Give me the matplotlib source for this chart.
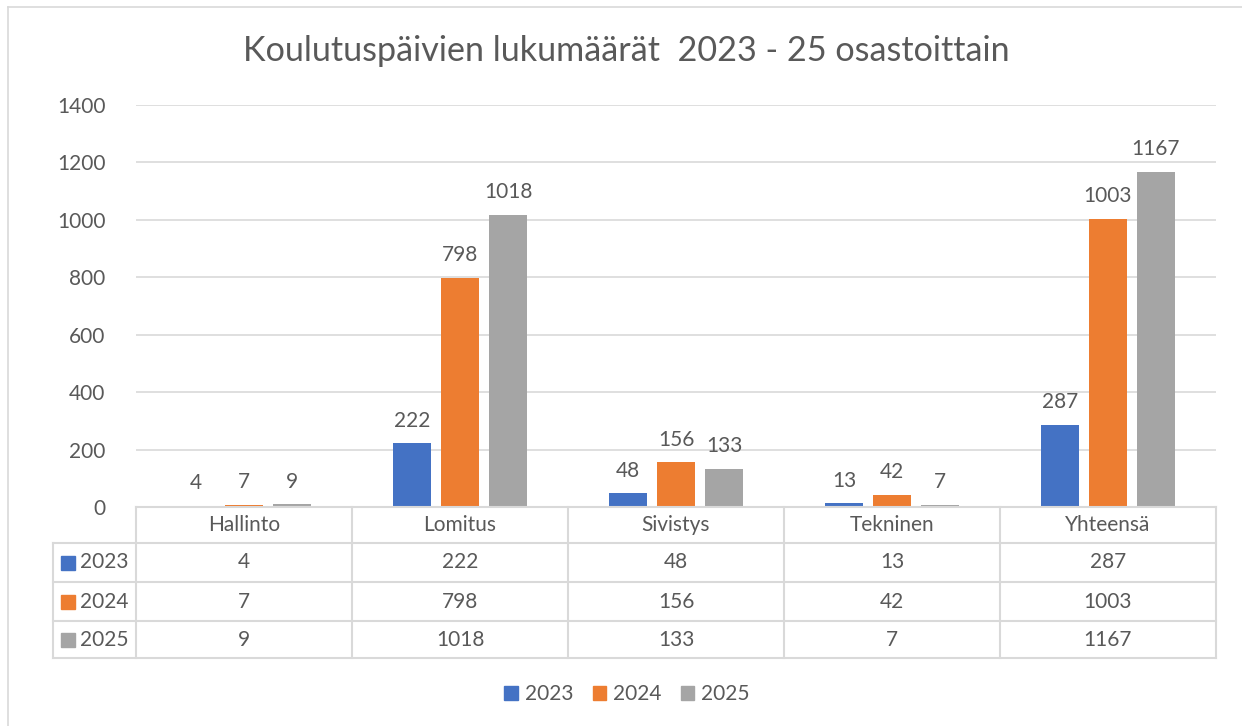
import matplotlib
matplotlib.use('agg')
import matplotlib.pyplot as plt
from matplotlib.patches import Patch
from matplotlib.lines import Line2D
import numpy as np

# Datos
osastot = ['Hallinto', 'Lomitus', 'Sivistys', 'Tekninen', 'Yhteensä']
vuodet = ['2023', '2024', '2025']
v2023 = [4, 222, 48, 13, 287]
v2024 = [7, 798, 156, 42, 1003]
v2025 = [9, 1018, 133, 7, 1167]
sarjat = [v2023, v2024, v2025]
varit = ['#4472C4', '#ED7D31', '#A5A5A5']

TEKSTI = '#595959'
VIIVA = '#D9D9D9'
FS = 15
plt.rcParams['font.family'] = ['Lato', 'DejaVu Sans']

W, H = 1242, 726
fig = plt.figure(figsize=(W / 100, H / 100), dpi=100)

def fx(px):
    return px / W

def fy(py):
    return 1 - py / H

# Ulkoreunus
fig.add_artist(Line2D([fx(8), fx(8)], [fy(7), 0], color=VIIVA, lw=1.2))
fig.add_artist(Line2D([fx(8), 1], [fy(7), fy(7)], color=VIIVA, lw=1.2))

# Pylväät
ax = fig.add_axes([fx(136), fy(507), fx(1080), (507 - 105) / H])
x = np.arange(len(osastot))
leveys = 38 / 216
askel = 48 / 216
for i, (arvot, vari) in enumerate(zip(sarjat, varit)):
    pos = x + (i - 1) * askel
    ax.bar(pos, arvot, width=leveys, color=vari, zorder=3)
    for p, v in zip(pos, arvot):
        ax.annotate(str(v), (p, v), xytext=(0, 9), textcoords='offset points',
                    ha='center', va='bottom', fontsize=FS, color=TEKSTI)

ax.set_xlim(-0.5, len(osastot) - 0.5)
ax.set_ylim(0, 1400)
ax.set_yticks(range(0, 1401, 200))
ax.tick_params(axis='y', length=0, pad=22, labelsize=FS, labelcolor=TEKSTI)
ax.set_xticks([])
ax.grid(axis='y', color=VIIVA, lw=1.2, zorder=0)
for s in ['top', 'right', 'left', 'bottom']:
    ax.spines[s].set_visible(False)

fig.text(0.504, fy(51), 'Koulutuspäivien lukumäärät  2023 - 25 osastoittain',
         ha='center', va='center', fontsize=24.6, color=TEKSTI)

# Taulukko
at = fig.add_axes([fx(136), fy(658), fx(1080), (658 - 507) / H])
at.set_xlim(-0.5, len(osastot) - 0.5)
at.set_ylim(151, 0)
at.axis('off')
rivit = [0, 36, 75, 114, 151]
vasen = -0.5 - 83 / 216
kw = dict(color=VIIVA, lw=1.5, clip_on=False)
at.plot([-0.5, len(osastot) - 0.5], [0, 0], **kw)
for r in rivit[1:]:
    at.plot([vasen, len(osastot) - 0.5], [r, r], **kw)
for k in range(len(osastot) + 1):
    at.plot([k - 0.5, k - 0.5], [0, 151], **kw)
at.plot([vasen, vasen], [36, 151], **kw)

for k, nimi in enumerate(osastot):
    at.text(k, 18, nimi, ha='center', va='center', fontsize=FS, color=TEKSTI)
for j, (vuosi, arvot, vari) in enumerate(zip(vuodet, sarjat, varit)):
    yc = (rivit[j + 1] + rivit[j + 2]) / 2
    at.add_patch(plt.Rectangle((vasen + 8 / 216, yc - 7), 14 / 216, 14,
                               color=vari, clip_on=False))
    at.text(vasen + 27 / 216, yc, vuosi, ha='left', va='center', fontsize=FS, color=TEKSTI)
    for k, v in enumerate(arvot):
        at.text(k, yc, str(v), ha='center', va='center', fontsize=FS, color=TEKSTI)

# Selite
kahvat = [Patch(color=c, label=v) for c, v in zip(varit, vuodet)]
fig.legend(handles=kahvat, loc='center', bbox_to_anchor=(0.505, fy(694)), ncol=3,
           frameon=False, fontsize=FS, labelcolor=TEKSTI, handlelength=0.65,
           handleheight=0.65, handletextpad=0.35, columnspacing=0.9)

fig.savefig('out.png', dpi=100, facecolor='white')
